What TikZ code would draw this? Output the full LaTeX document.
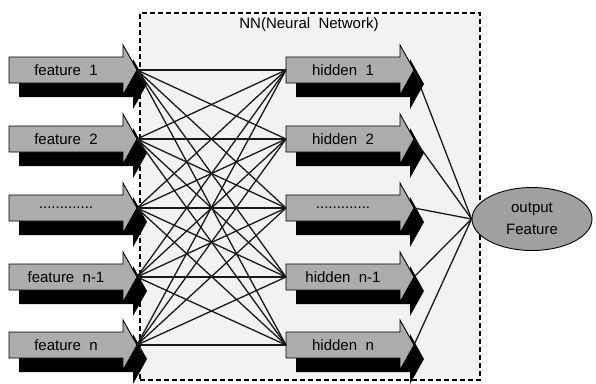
\documentclass[tikz,border=0pt]{standalone}
\usepackage{fontspec}
\setmainfont{Liberation Sans}
\usetikzlibrary{shapes.geometric}
\definecolor{arrgrey}{RGB}{172,172,172}
\definecolor{ellgrey}{RGB}{160,160,160}
\definecolor{bggrey}{RGB}{242,242,242}
\tikzset{
  arrowbody/.style={draw=black, line width=0.9pt, fill=arrgrey},
  arrowshadow/.style={fill=black},
  lbl/.style={inner sep=0pt, font=\fontsize{15}{18}\selectfont},
  conn/.style={line width=1.3pt, black!90},
  nnbox/.style={draw=black, line width=1.2pt, dash pattern=on 5pt off 3pt, fill=bggrey, inner sep=0pt},
  outell/.style={ellipse, draw=black, line width=0.9pt, fill=ellgrey, minimum width=120pt, minimum height=63pt, inner sep=0pt, align=center, font=\fontsize{15}{22}\selectfont},
}
\newcommand\myarrow[4]{%
  \fill[arrowshadow, shift={(#2+10,#3+14)}] (0,-13) -- (114,-13) -- (114,-25) -- (128,0) -- (114,25) -- (114,13) -- (0,13) -- cycle;
  \draw[arrowbody, shift={(#2,#3)}] (0,-13) -- (114,-13) -- (114,-25) -- (128,0) -- (114,25) -- (114,13) -- (0,13) -- cycle;
  \node[lbl] (#1) at (#2+57,#3) {#4};
  \coordinate (#1-in) at (#2,#3);
  \coordinate (#1-out) at (#2+128,#3);
}
\begin{document}
\begin{tikzpicture}[x=1pt,y=-1pt]
\useasboundingbox (0,0) rectangle (596,383);
\node[nnbox, minimum width=340pt, minimum height=367pt] (nn) at (310,196.5) {};
\node[lbl] (title) at (309,25) {NN(Neural\ \ Network)};
\myarrow{f1}{9}{70}{feature\ \ 1}
\myarrow{f2}{9}{139}{feature\ \ 2}
\myarrow{f3}{9}{208}{.............}
\myarrow{f4}{9}{277}{feature\ \ n-1}
\myarrow{f5}{9}{345}{feature\ \ n}
\myarrow{h1}{286}{70}{hidden\ \ 1}
\myarrow{h2}{286}{139}{hidden\ \ 2}
\myarrow{h3}{286}{208}{.............}
\myarrow{h4}{286}{277}{hidden\ \ n-1}
\myarrow{h5}{286}{345}{hidden\ \ n}
\node[outell] (out) at (532,219) {output\\Feature};
\foreach \i in {1,...,5}{
  \foreach \j in {1,...,5}{
    \draw[conn] (f\i-out) -- (h\j-in);
  }
  \draw[conn] (h\i-out) -- (out.west);
}
\end{tikzpicture}
\end{document}
